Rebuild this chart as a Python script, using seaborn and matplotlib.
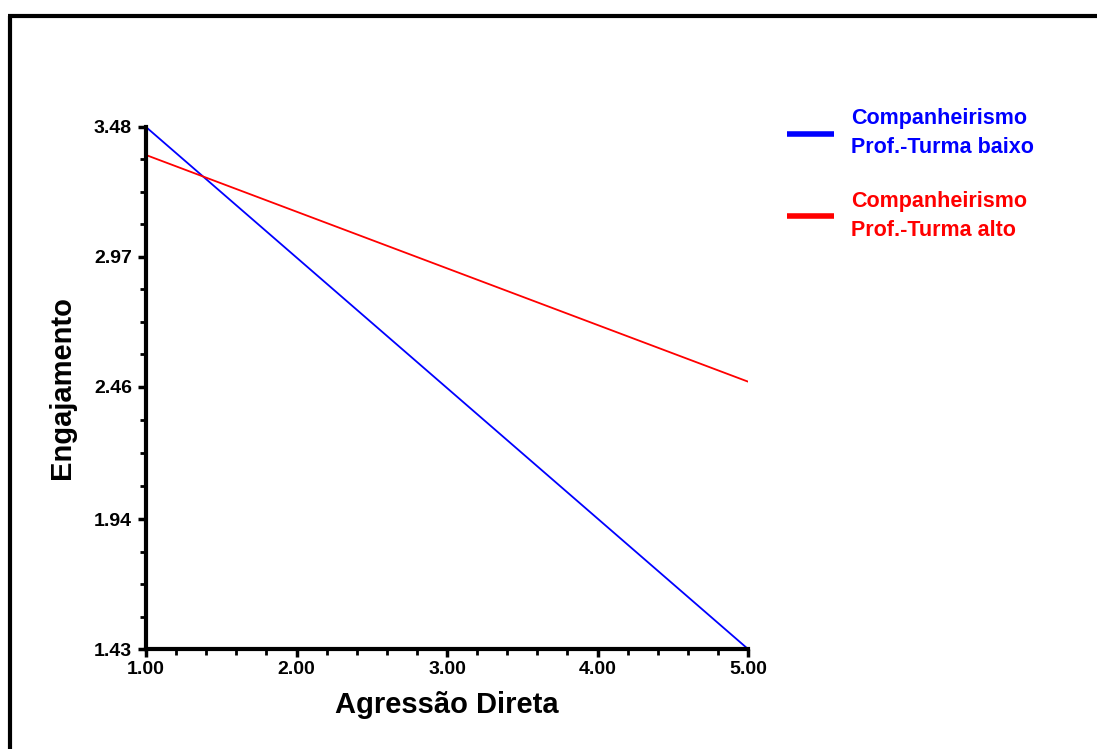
import matplotlib
matplotlib.use("Agg")
import matplotlib.pyplot as plt
import seaborn as sns
import pandas as pd
from matplotlib.lines import Line2D
from matplotlib.ticker import MultipleLocator, FixedLocator

x_vals = [1.0, 5.0]
y_baixo = [3.48, 1.43]
y_alto = [3.37, 2.48]
series_names = ["Companheirismo\nProf.-Turma baixo", "Companheirismo\nProf.-Turma alto"]
colors = ["#0000FF", "#FF0000"]
y_ticks = [1.43, 1.94, 2.46, 2.97, 3.48]
x_ticks = [1.0, 2.0, 3.0, 4.0, 5.0]

df = pd.DataFrame({
    "x": x_vals * 2,
    "y": y_baixo + y_alto,
    "grupo": [series_names[0]] * 2 + [series_names[1]] * 2,
})

sns.set_style("white")
plt.rcParams['font.family'] = ['Liberation Sans', 'DejaVu Sans']

fig = plt.figure(figsize=(10.97, 7.49), dpi=100)
ax = fig.add_axes([146/1097, 1 - 649/749, (748-146)/1097, (649-127)/749])

sns.lineplot(data=df, x="x", y="y", hue="grupo", palette=colors, ax=ax,
             linewidth=1.3, legend=False)

ax.set_xlim(1, 5)
ax.set_ylim(1.43, 3.48)
ax.set_xticks(x_ticks)
ax.set_xticklabels([f"{v:.2f}" for v in x_ticks], fontsize=14, fontweight='bold')
ax.set_yticks(y_ticks)
ax.set_yticklabels([f"{v:.2f}" for v in y_ticks], fontsize=14, fontweight='bold')
ax.xaxis.set_minor_locator(MultipleLocator(0.2))
minor_y = []
for a, b in zip(y_ticks[:-1], y_ticks[1:]):
    step = (b - a) / 4
    minor_y += [a + step * k for k in range(1, 4)]
ax.yaxis.set_minor_locator(FixedLocator(minor_y))
ax.tick_params(axis='both', which='major', direction='out', length=6, width=2.5, colors='black')
ax.tick_params(axis='x', which='major', pad=3)
ax.tick_params(axis='y', which='major', pad=4)
ax.tick_params(axis='both', which='minor', direction='out', length=4, width=2, colors='black')
ax.tick_params(axis='both', which='both', bottom=True, left=True)

for s in ["top", "right"]:
    ax.spines[s].set_visible(False)
for s in ["left", "bottom"]:
    ax.spines[s].set_linewidth(3)
    ax.spines[s].set_color("black")

ax.set_xlabel("Agressão Direta", fontsize=21, fontweight='bold', labelpad=9, color='black')
ax.set_ylabel("Engajamento", fontsize=21, fontweight='bold', labelpad=13, color='black')

handles = [Line2D([0], [0], color=c, lw=4, solid_capstyle='butt') for c in colors]
leg = fig.legend(handles, series_names, loc='upper left',
                 bbox_to_anchor=(768/1097, 1 - 89/749), frameon=False,
                 fontsize=15.5, handlelength=2.15, handletextpad=0.8,
                 labelspacing=1.5, labelcolor=colors)
for t in leg.get_texts():
    t.set_fontweight('bold')
    t.set_linespacing(1.5)

# figure border (top and left visible)
fig.add_artist(Line2D([9.5/1097, 9.5/1097], [0, 1 - 15.5/749], transform=fig.transFigure,
                      color='black', lw=3, solid_capstyle='butt'))
fig.add_artist(Line2D([8/1097, 1], [1 - 15.5/749, 1 - 15.5/749], transform=fig.transFigure,
                      color='black', lw=3, solid_capstyle='butt'))

fig.savefig("out.png", dpi=100)
